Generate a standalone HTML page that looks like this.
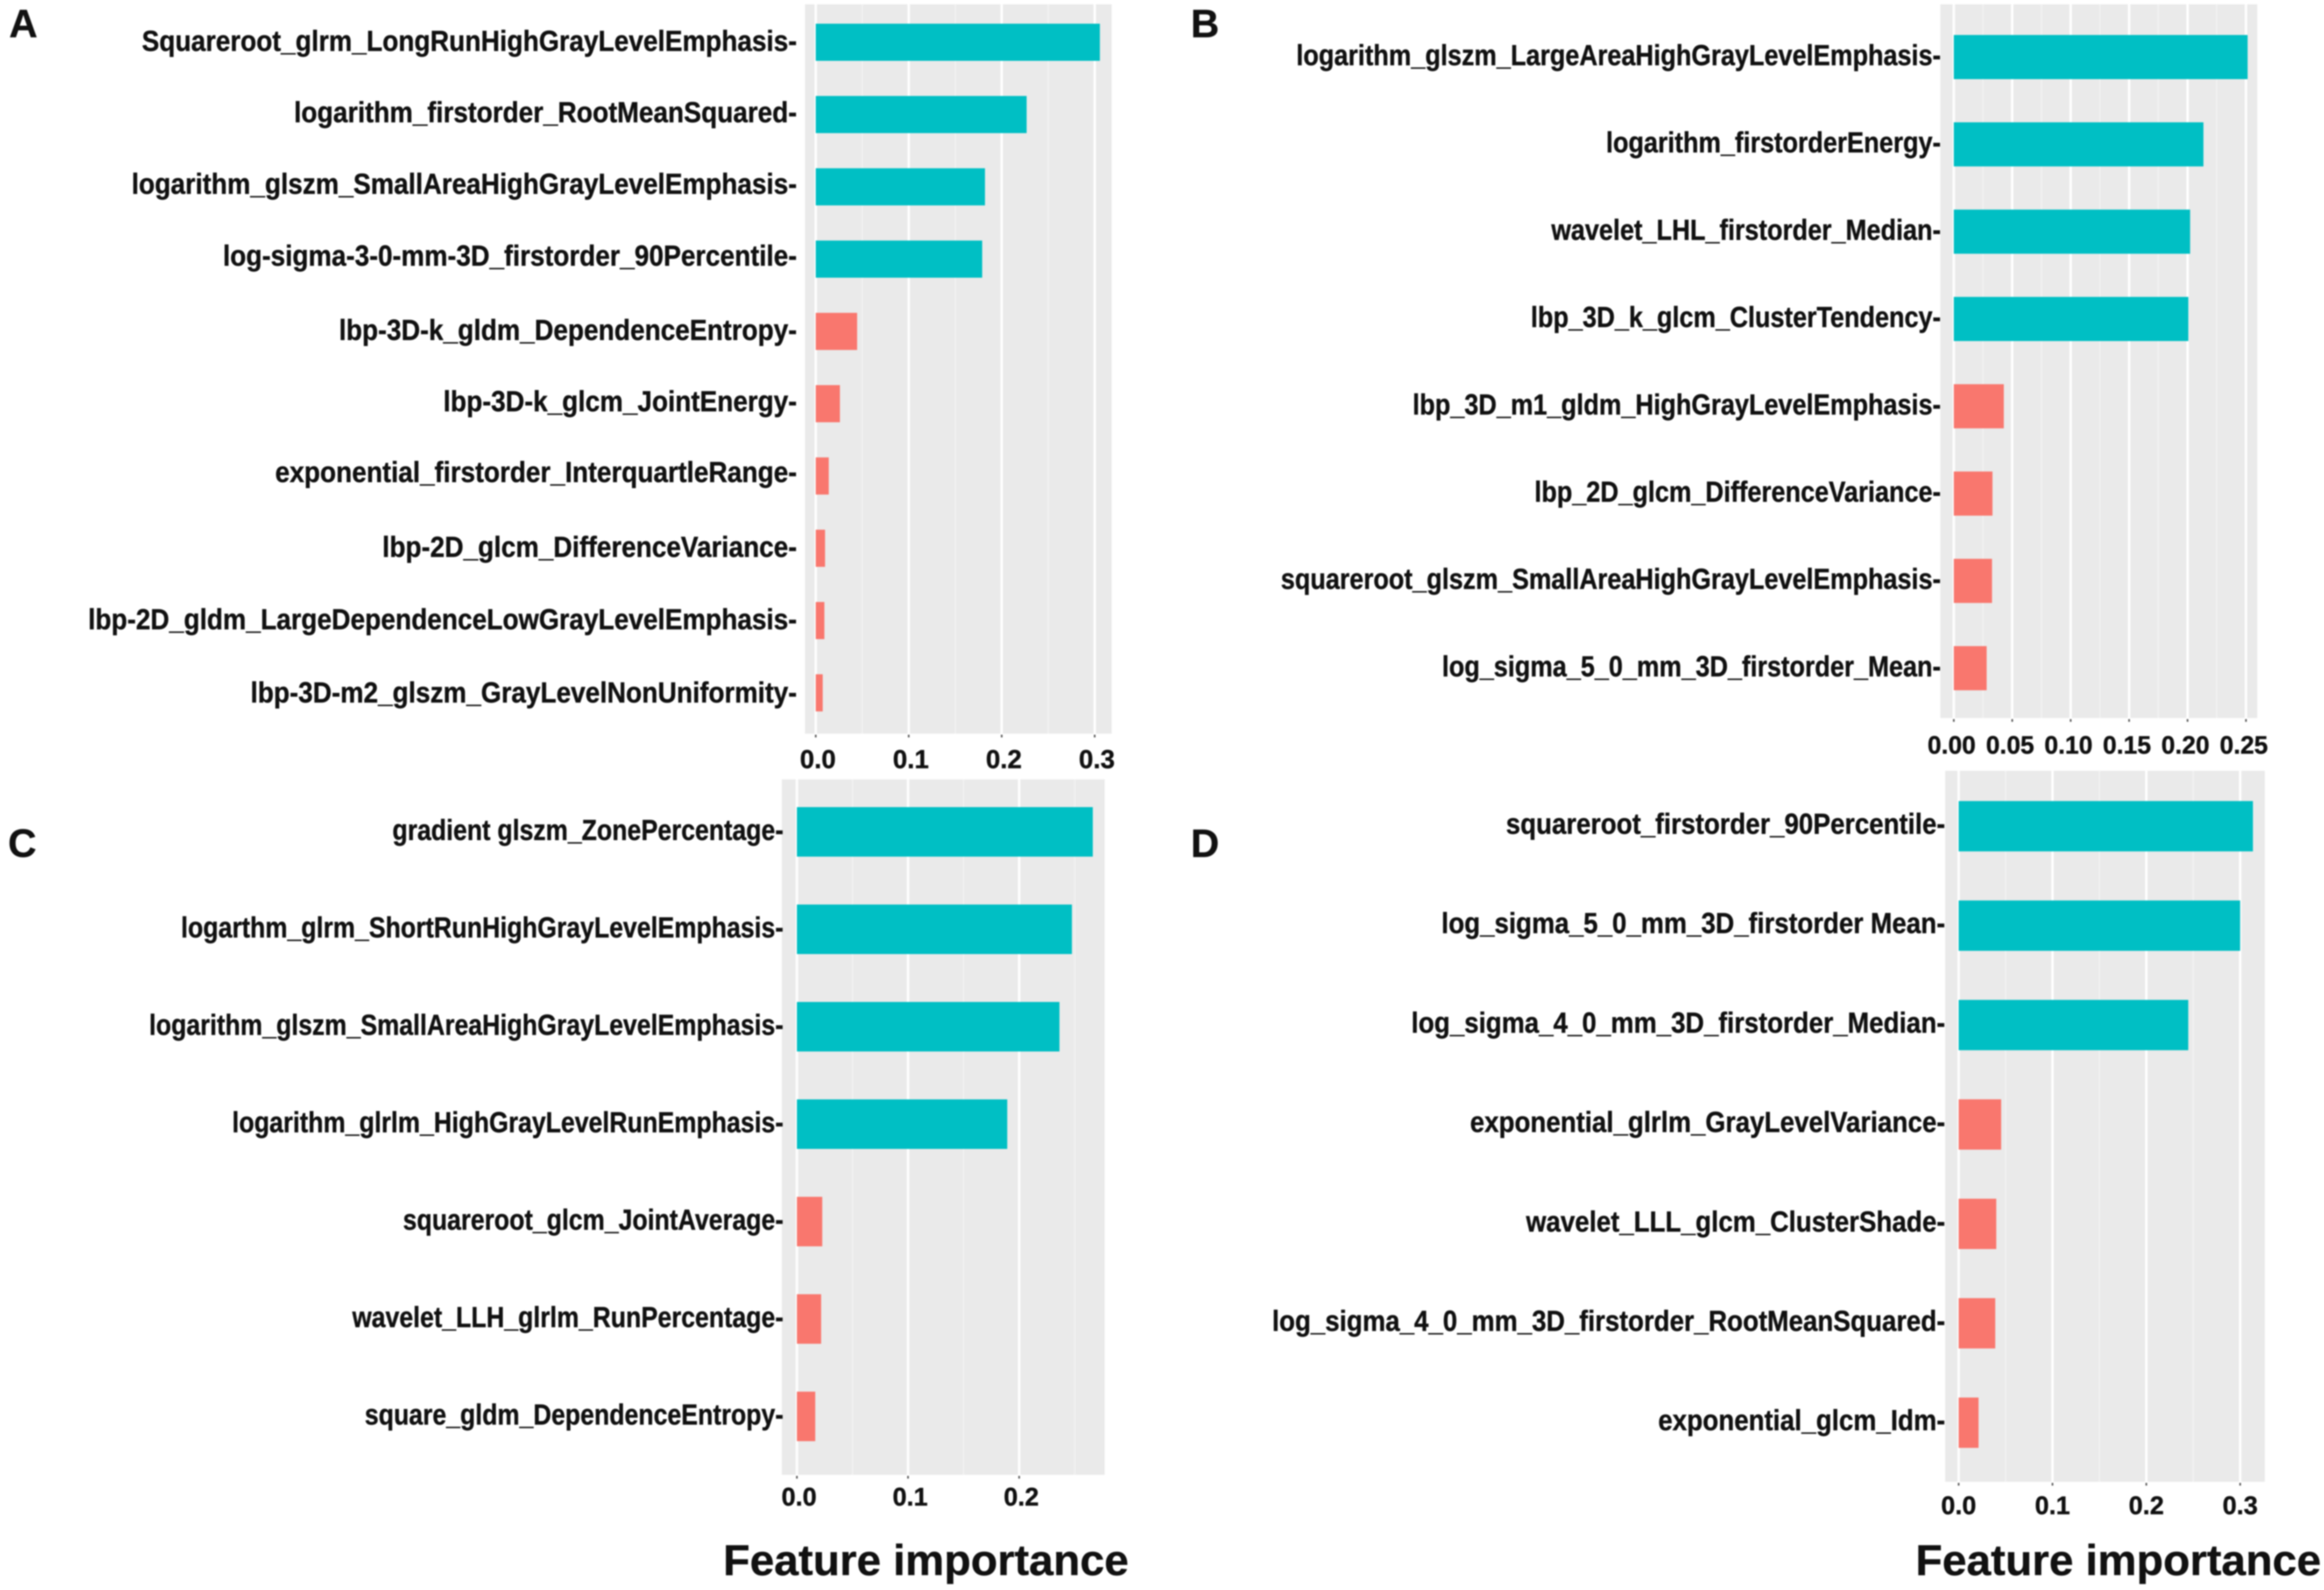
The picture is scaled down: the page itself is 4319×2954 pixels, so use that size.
<!DOCTYPE html>
<html lang="en">
<head>
<meta charset="utf-8">
<title>Feature importance panels</title>
<style>
html,body{margin:0;padding:0;background:#fff;width:4319px;height:2954px;overflow:hidden}
svg{display:block;filter:blur(1.3px)}
text{font-family:"Liberation Sans",Arial,sans-serif;font-weight:700;fill:#111;stroke:#111;stroke-width:0.7px}
</style>
</head>
<body>
<svg id="figure" xmlns="http://www.w3.org/2000/svg" width="4319" height="2954" viewBox="0 0 4319 2954">
<rect width="4319" height="2954" fill="#fff"/>
<text x="17" y="69" font-size="73">A</text>
<text x="2213" y="69" font-size="73">B</text>
<text x="15" y="1592" font-size="73">C</text>
<text x="2213" y="1592" font-size="73">D</text>
<text transform="translate(1344 2926) scale(1.015 1)" font-size="80">Feature importance</text>
<text transform="translate(3560 2926) scale(1.015 1)" font-size="80">Feature importance</text>
</svg>
<script>
const panelALabels = ["Squareroot_glrm_LongRunHighGrayLevelEmphasis-","logarithm_firstorder_RootMeanSquared-","logarithm_glszm_SmallAreaHighGrayLevelEmphasis-","log-sigma-3-0-mm-3D_firstorder_90Percentile-","lbp-3D-k_gldm_DependenceEntropy-","lbp-3D-k_glcm_JointEnergy-","exponential_firstorder_InterquartleRange-","lbp-2D_glcm_DifferenceVariance-","lbp-2D_gldm_LargeDependenceLowGrayLevelEmphasis-","lbp-3D-m2_glszm_GrayLevelNonUniformity-"];
const panelAValues = [0.3056,0.2268,0.182,0.179,0.0445,0.026,0.014,0.010,0.0093,0.0075];
const panelAGroups = ["high","high","high","high","low","low","low","low","low","low"];
const panelATicks = [0,0.1,0.2,0.3];
const panelATickLabels = ["0.0","0.1","0.2","0.3"];

const panelBLabels = ["logarithm_glszm_LargeAreaHighGrayLevelEmphasis-","logarithm_firstorderEnergy-","wavelet_LHL_firstorder_Median-","lbp_3D_k_glcm_ClusterTendency-","lbp_3D_m1_gldm_HighGrayLevelEmphasis-","lbp_2D_glcm_DifferenceVariance-","squareroot_glszm_SmallAreaHighGrayLevelEmphasis-","log_sigma_5_0_mm_3D_firstorder_Mean-"];
const panelBValues = [0.2514,0.2136,0.2022,0.2007,0.0428,0.0331,0.0327,0.0281];
const panelBGroups = ["high","high","high","high","low","low","low","low"];
const panelBTicks = [0,0.05,0.1,0.15,0.2,0.25];
const panelBTickLabels = ["0.00","0.05","0.10","0.15","0.20","0.25"];

const panelCLabels = ["gradient glszm_ZonePercentage-","logarthm_glrm_ShortRunHighGrayLevelEmphasis-","logarithm_glszm_SmallAreaHighGrayLevelEmphasis-","logarithm_glrlm_HighGrayLevelRunEmphasis-","squareroot_glcm_JointAverage-","wavelet_LLH_glrlm_RunPercentage-","square_gldm_DependenceEntropy-"];
const panelCValues = [0.2663,0.2475,0.2363,0.1893,0.0228,0.0218,0.0165];
const panelCGroups = ["high","high","high","high","low","low","low"];
const panelCTicks = [0,0.1,0.2];
const panelCTickLabels = ["0.0","0.1","0.2"];

const panelDLabels = ["squareroot_firstorder_90Percentile-","log_sigma_5_0_mm_3D_firstorder Mean-","log_sigma_4_0_mm_3D_firstorder_Median-","exponential_glrlm_GrayLevelVariance-","wavelet_LLL_glcm_ClusterShade-","log_sigma_4_0_mm_3D_firstorder_RootMeanSquared-","exponential_glcm_Idm-"];
const panelDValues = [0.3136,0.300,0.2447,0.0453,0.0401,0.039,0.0212];
const panelDGroups = ["high","high","high","low","low","low","low"];
const panelDTicks = [0,0.1,0.2,0.3];
const panelDTickLabels = ["0.0","0.1","0.2","0.3"];

const groupColors = {high:"#00BFC4", low:"#F9776E"};
const labelFontSize = 54;
const svgNS = "http://www.w3.org/2000/svg";
const figure = document.getElementById("figure");

function shape(parent, tag, attrs){
  const el = document.createElementNS(svgNS, tag);
  for (const k in attrs) el.setAttribute(k, attrs[k]);
  parent.appendChild(el);
  return el;
}

function drawPanel(id, geo, labels, values, groups, ticks, tickLabels){
  const g = shape(figure, "g", {});
  
  

  const xScale = v => geo.x0 + v * geo.pxPerUnit;
  const yScale = i => geo.firstCenter + i * geo.band;

  const bg = shape(g, "rect", {x:geo.left, y:geo.top, width:geo.right-geo.left, height:geo.bottom-geo.top, fill:"#EAEAEA"});
  
  

  const step = ticks[1] - ticks[0];
  for (let m = step/2; xScale(m) < geo.right; m += step){
    const minor = shape(g, "line", {x1:xScale(m), x2:xScale(m), y1:geo.top, y2:geo.bottom, stroke:"#F2F2F2", "stroke-width":2.5});
    
    
  }

  ticks.forEach((t, i) => {
    const grid = shape(g, "line", {x1:xScale(t), x2:xScale(t), y1:geo.top, y2:geo.bottom, stroke:"#FFFFFF", "stroke-width":4.5});
    
    

    const tick = shape(g, "line", {x1:xScale(t), x2:xScale(t), y1:geo.bottom+2, y2:geo.bottom+7, stroke:"#555", "stroke-width":3});
    
    

    const lab = shape(g, "text", {x:xScale(t)+geo.tickDx, y:geo.tickBaseline, "text-anchor":"middle", "font-size":geo.tickFont});
    
    
    lab.textContent = tickLabels[i];
  });

  values.forEach((v, i) => {
    const bar = shape(g, "rect", {x:xScale(0), y:yScale(i)-geo.barH/2, width:xScale(v)-xScale(0), height:geo.barH, fill:groupColors[groups[i]]});
    
    

    const nudge = geo.labelNudge ? geo.labelNudge[i] : 0;
    const lab = shape(g, "text", {transform:"translate(" + geo.labelRight + " " + (yScale(i)+geo.labelDy+nudge) + ") scale(" + geo.labelSx + " 1)", "text-anchor":"end", "font-size":labelFontSize});
    
    
    lab.textContent = labels[i];
  });
}

drawPanel("a", {left:1496,right:2066,top:8,bottom:1363,x0:1516,pxPerUnit:1728,firstCenter:78.5,band:134.3,barH:69,labelRight:1481,labelDy:16,labelNudge:[0,-2,-3,-4,0,-2,-5,0,0,2],labelSx:0.898,tickDx:4,tickBaseline:1427,tickFont:48},
  panelALabels, panelAValues, panelAGroups, panelATicks, panelATickLabels);
drawPanel("b", {left:3606,right:4195,top:8,bottom:1334,x0:3631,pxPerUnit:2172,firstCenter:106,band:162.2,barH:82,labelRight:3607,labelDy:15,labelSx:0.868,tickDx:-4,tickBaseline:1400,tickFont:46},
  panelBLabels, panelBValues, panelBGroups, panelBTicks, panelBTickLabels);
drawPanel("c", {left:1453,right:2053,top:1448,bottom:2740,x0:1481,pxPerUnit:2065,firstCenter:1545.5,band:181,barH:92,labelRight:1456,labelDy:15,labelSx:0.856,tickDx:4,tickBaseline:2797,tickFont:47},
  panelCLabels, panelCValues, panelCGroups, panelCTicks, panelCTickLabels);
drawPanel("d", {left:3615,right:4209,top:1432,bottom:2753,x0:3640,pxPerUnit:1744,firstCenter:1535,band:184.7,barH:93.5,labelRight:3615,labelDy:14,labelSx:0.889,tickDx:0,tickBaseline:2813,tickFont:47},
  panelDLabels, panelDValues, panelDGroups, panelDTicks, panelDTickLabels);
</script>
</body>
</html>
